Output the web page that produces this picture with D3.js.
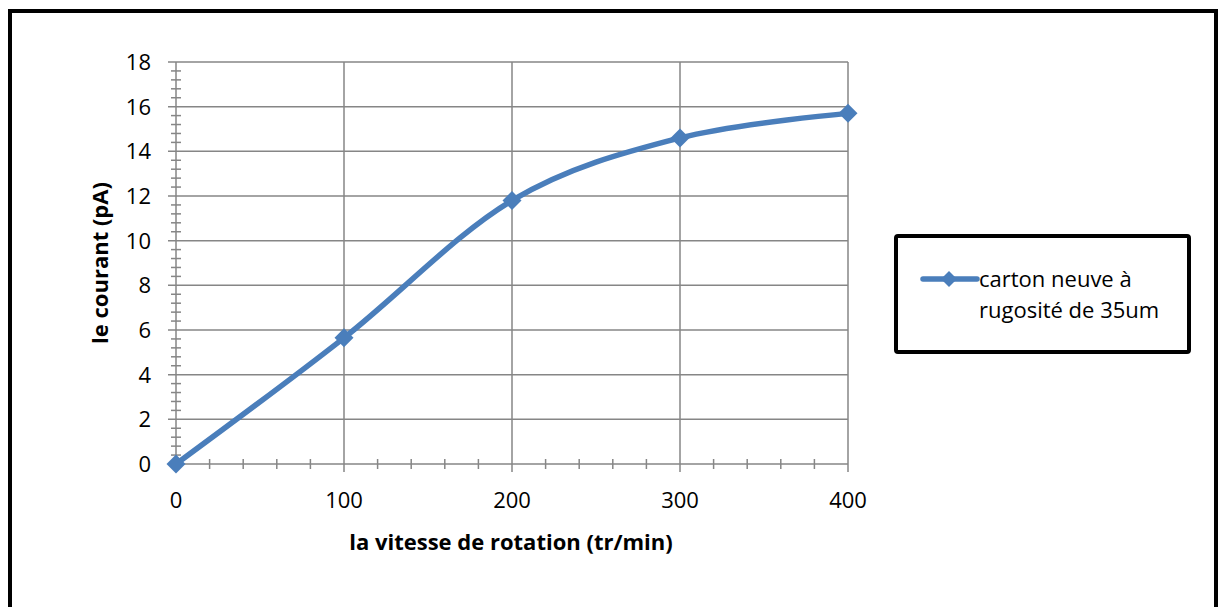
<!DOCTYPE html>
<html><head><meta charset="utf-8">
<script src="https://cdn.jsdelivr.net/npm/d3@7"></script>
<style>body{margin:0;background:#fff}svg{display:block}text{font-family:"Open Sans",Lato,sans-serif}</style>
</head><body>
<svg id="c" width="1221" height="607"></svg>
<script>
const speeds = [0, 100, 200, 300, 400];
const currents = [0, 5.65, 11.8, 14.6, 15.7];
const seriesName = ["carton neuve à", "rugosité de 35um"];
const xTicks = [0, 100, 200, 300, 400];
const yTicks = [0, 2, 4, 6, 8, 10, 12, 14, 16, 18];
const xTitle = "la vitesse de rotation (tr/min)";
const yTitle = "le courant (pA)";

const svg = d3.select("#c");
const color = "#4a7ebb", grid = "#868686";
const x = d3.scaleLinear().domain([0, 400]).range([176, 848]);
const y = d3.scaleLinear().domain([0, 18]).range([464, 62]);
const fs = 22;

// outer border
svg.append("rect").attr("x", 10).attr("y", 11).attr("width", 1206).attr("height", 640)
  .attr("fill", "none").attr("stroke", "#000").attr("stroke-width", 4);

// gridlines
svg.append("g").selectAll("line").data(yTicks.filter(d => d > 0)).join("line")
  .attr("x1", 168).attr("x2", x(400)).attr("y1", d => y(d)).attr("y2", d => y(d))
  .attr("stroke", grid).attr("stroke-width", 1.5);
svg.append("g").selectAll("line").data(xTicks.filter(d => d > 0)).join("line")
  .attr("x1", d => x(d)).attr("x2", d => x(d)).attr("y1", y(18)).attr("y2", y(0) + 8)
  .attr("stroke", grid).attr("stroke-width", 1.5);

// minor ticks
const yMinor = d3.range(0, 18.001, 0.4).filter(v => Math.abs(v / 2 - Math.round(v / 2)) > 1e-6);
svg.append("g").selectAll("line").data(yMinor).join("line")
  .attr("x1", x(0) - 5).attr("x2", x(0) + 5).attr("y1", d => y(d)).attr("y2", d => y(d))
  .attr("stroke", grid).attr("stroke-width", 1.5);
const xMinor = d3.range(0, 400.001, 20).filter(v => v % 100 !== 0);
svg.append("g").selectAll("line").data(xMinor).join("line")
  .attr("x1", d => x(d)).attr("x2", d => x(d)).attr("y1", y(0) - 5).attr("y2", y(0) + 5)
  .attr("stroke", grid).attr("stroke-width", 1.5);

// axes lines
svg.append("line").attr("x1", x(0)).attr("x2", x(0)).attr("y1", y(18)).attr("y2", y(0) + 8)
  .attr("stroke", grid).attr("stroke-width", 1.5);
svg.append("line").attr("x1", 168).attr("x2", x(400)).attr("y1", y(0)).attr("y2", y(0))
  .attr("stroke", grid).attr("stroke-width", 1.5);

// tick labels
svg.append("g").selectAll("text").data(yTicks).join("text")
  .attr("x", 151).attr("y", d => y(d)).attr("dy", "0.36em").attr("text-anchor", "end")
  .attr("font-size", fs).attr("fill", "#000").text(d => d);
svg.append("g").selectAll("text").data(xTicks).join("text")
  .attr("x", d => x(d)).attr("y", 500).attr("dy", "0.36em").attr("text-anchor", "middle")
  .attr("font-size", fs).attr("fill", "#000").text(d => d);

// titles
svg.append("text").attr("x", 511).attr("y", 542).attr("dy", "0.36em").attr("text-anchor", "middle")
  .attr("font-size", fs).attr("font-weight", "bold").text(xTitle);
svg.append("text").attr("transform", "translate(100,263) rotate(-90)").attr("dy", "0.36em")
  .attr("text-anchor", "middle").attr("font-size", fs).attr("font-weight", "bold").text(yTitle);

// series
const pts = speeds.map((s, i) => [s, currents[i]]);
const line = d3.line().x(d => x(d[0])).y(d => y(d[1])).curve(d3.curveCardinal.tension(0));
svg.append("path").datum(pts).attr("d", line).attr("fill", "none")
  .attr("stroke", color).attr("stroke-width", 5.5).attr("stroke-linecap", "round");
const diamond = d3.symbol().type(d3.symbolDiamond2).size(230);
svg.append("g").selectAll("path").data(pts).join("path")
  .attr("transform", d => `translate(${x(d[0])},${y(d[1])})`).attr("d", diamond).attr("fill", color);

// legend
svg.append("rect").attr("x", 896).attr("y", 236).attr("width", 293).attr("height", 116).attr("rx", 2)
  .attr("fill", "#fff").attr("stroke", "#000").attr("stroke-width", 4);
svg.append("line").attr("x1", 923).attr("x2", 977).attr("y1", 279).attr("y2", 279)
  .attr("stroke", color).attr("stroke-width", 5.5).attr("stroke-linecap", "round");
svg.append("path").attr("transform", "translate(949,279)").attr("d", d3.symbol().type(d3.symbolDiamond2).size(165)).attr("fill", color);
svg.append("text").attr("x", 979).attr("y", 287).attr("font-size", fs).text(seriesName[0]);
svg.append("text").attr("x", 979).attr("y", 318).attr("font-size", fs).text(seriesName[1]);
</script>
</body></html>
